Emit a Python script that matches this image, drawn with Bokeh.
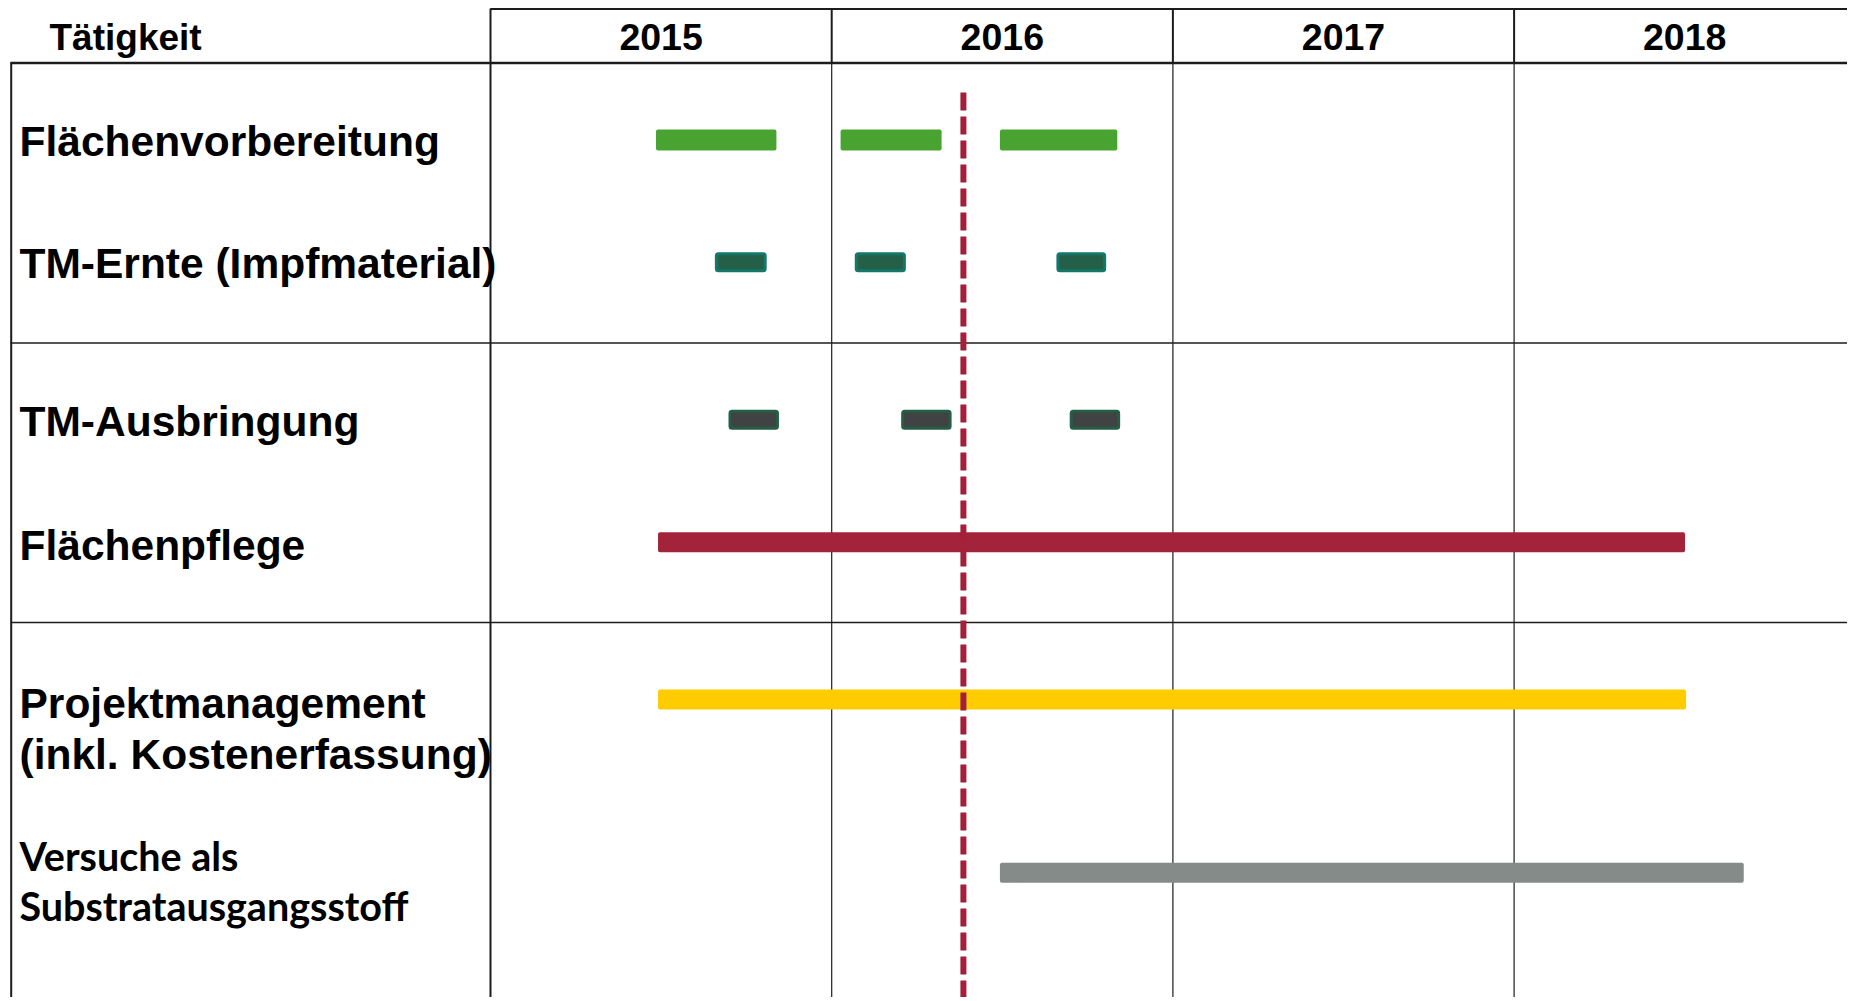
from bokeh.plotting import figure
from bokeh.models import Range1d
from bokeh.core.properties import value
from bokeh.embed import file_html
from bokeh.resources import INLINE

# ---------------- data ----------------
years = [2015, 2016, 2017, 2018]
header_title = "Tätigkeit"

task_labels = [
    ["Flächenvorbereitung"],
    ["TM-Ernte (Impfmaterial)"],
    ["TM-Ausbringung"],
    ["Flächenpflege"],
    ["Projektmanagement", "(inkl. Kostenerfassung)"],
    ["Versuche als", "Substratausgangsstoff"],
]

flaechenvorbereitung_start = [2015.485, 2016.026, 2016.493]
flaechenvorbereitung_end = [2015.838, 2016.322, 2016.837]
ernte_start = [2015.662, 2016.072, 2016.663]
ernte_end = [2015.805, 2016.213, 2016.800]
ausbringung_start = [2015.702, 2016.208, 2016.702]
ausbringung_end = [2015.841, 2016.347, 2016.841]
pflege_start = [2015.491]
pflege_end = [2018.501]
projekt_start = [2015.491]
projekt_end = [2018.504]
versuche_start = [2016.493]
versuche_end = [2018.673]
stichtag = 2016.386

# ---------------- layout ----------------
W, H = 1847, 997
X_FIRST = 490    # page x of first year column
YEAR_PX = 341.2  # pixels per year


def yr(px):
    return years[0] + (px - X_FIRST) / YEAR_PX


x_lo, x_hi = yr(0), yr(W)
row_y = [139.5, 261.7, 419.3, 541.7, 699.0, 872.3]
# rendered text anchor positions (page pixels)
label_y = [[141.0], [263.0], [421.0], [544.5], [702.5], [753.5], [855.0], [905.0]]
label_y = [[141.0], [263.0], [421.0], [544.5], [702.5, 753.5], [855.0, 905.0]]

p = figure(width=W, height=H, output_backend="svg", toolbar_location=None,
           x_range=Range1d(x_lo, x_hi), y_range=Range1d(H, 0),
           min_border=0, outline_line_color=None, background_fill_color="white",
           border_fill_color="white")
p.xaxis.visible = False
p.yaxis.visible = False
p.grid.visible = False

LINE = "#1c1c1c"
# header lines
p.segment(x0=[yr(490)], y0=[8.5], x1=[x_hi], y1=[8.5], line_color=LINE, line_width=2)
p.segment(x0=[yr(10)], y0=[62.5], x1=[x_hi], y1=[62.5], line_color=LINE, line_width=2.5)
# left border and label column border
p.segment(x0=[yr(10.7)], y0=[62], x1=[yr(10.7)], y1=[H], line_color=LINE, line_width=2)
p.segment(x0=[years[0]], y0=[8], x1=[years[0]], y1=[H], line_color=LINE, line_width=2)
# year column lines
later = years[1:]
p.segment(x0=later, y0=[8] * len(later), x1=later, y1=[62] * len(later),
          line_color=LINE, line_width=2)
p.segment(x0=later, y0=[62] * len(later), x1=later, y1=[H] * len(later),
          line_color=LINE, line_width=1.2)
# row group separators
p.segment(x0=[yr(10)] * 2, y0=[342.5, 622.0], x1=[x_hi] * 2, y1=[342.5, 622.0],
          line_color=LINE, line_width=1.5)

# header texts
p.text(x=[yr(49)], y=[37.0], text=[header_title], text_font=value("Liberation Sans"),
       text_font_style="bold", text_font_size="37px", text_color="black",
       text_align="left", text_baseline="alphabetic")
p.text(x=[y + 0.5 for y in years], y=[36.0] * len(years), text=[str(y) for y in years],
       text_font=value("Liberation Sans"), text_font_style="bold", text_font_size="37.5px",
       text_color="black", text_align="center", text_baseline="alphabetic")

# task labels
for i, (lines, ys) in enumerate(zip(task_labels, label_y)):
    if i == 5:
        font, size = "Lato", "39.5px"
    else:
        font, size = "Liberation Sans", "42.5px"
    p.text(x=[yr(19)] * len(lines), y=ys, text=lines, text_font=value(font),
           text_font_style="bold", text_font_size=size, text_color="black",
           text_align="left", text_baseline="alphabetic")

# bars
p.hbar(y=[row_y[0]] * 3, left=flaechenvorbereitung_start, right=flaechenvorbereitung_end,
       height=21, fill_color="#48a331", line_color=None, border_radius=2)
p.hbar(y=[row_y[1]] * 3, left=ernte_start, right=ernte_end, height=17,
       fill_color="#245f47", line_color="#13786a", line_width=3, border_radius=2)
p.hbar(y=[row_y[2]] * 3, left=ausbringung_start, right=ausbringung_end, height=17,
       fill_color="#404244", line_color="#235e45", line_width=3, border_radius=2)
p.hbar(y=[row_y[3]], left=pflege_start, right=pflege_end, height=20,
       fill_color="#a3233a", line_color=None, border_radius=2)
p.hbar(y=[row_y[4]], left=projekt_start, right=projekt_end, height=20,
       fill_color="#ffcc00", line_color=None, border_radius=2)
p.hbar(y=[row_y[5]], left=versuche_start, right=versuche_end, height=20,
       fill_color="#848b89", line_color=None, border_radius=2)

# today marker
p.segment(x0=[stichtag], y0=[92], x1=[stichtag], y1=[H], line_color="#a41f3a",
          line_width=6, line_dash="18 6", line_cap="butt")

open("out.html", "w").write(file_html(p, INLINE))
